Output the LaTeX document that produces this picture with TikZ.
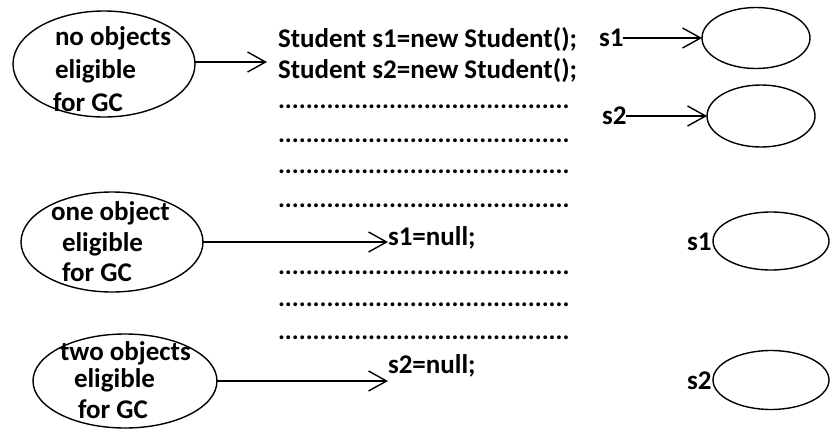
\documentclass[tikz,border=0pt]{standalone}
\usepackage{fontspec}
\setmainfont{Carlito}
\usetikzlibrary{arrows.meta,shapes.geometric}
\begin{document}
\begin{tikzpicture}[x=1pt,y=-1pt,
  every node/.style={inner sep=0pt,outer sep=0pt,font=\fontsize{27}{32}\selectfont\bfseries},
  txt/.style={anchor=base west},
  oval/.style={draw,ellipse,line width=1.4pt,minimum width=#1},
  conn/.style={line width=1.6pt,-{Straight Barb[length=18pt,width=20pt,line width=1.4pt]}},
  dots/.style={anchor=base west,font=\fontsize{26}{31}\selectfont\bfseries}]
\useasboundingbox (0,0) rectangle (839,434);
% left ellipses
\node[oval=182pt,minimum height=106pt] (e1) at (104,64) {};
\node[txt] (t1a) at (55,45) {no objects};
\node[txt] (t1b) at (55,78) {eligible};
\node[txt] (t1c) at (53,111) {for GC};
\node[oval=182pt,minimum height=100pt] (e2) at (112,242) {};
\node[txt] (t2a) at (51,220) {one object};
\node[txt] (t2b) at (62,251) {eligible};
\node[txt] (t2c) at (62,281) {for GC};
\node[oval=184pt,minimum height=94pt] (e3) at (125,381) {};
\node[txt] (t3a) at (60,360) {two objects};
\node[txt] (t3b) at (74,387) {eligible};
\node[txt] (t3c) at (78,418) {for GC};
% code
\node[txt] (c1) at (278,47) {Student s1=new Student();};
\node[txt] (c2) at (278,78) {Student s2=new Student();};
\node[dots] (d1) at (278,108) {..........................................};
\node[dots] (d2) at (278,142) {..........................................};
\node[dots] (d3) at (278,173) {..........................................};
\node[dots] (d4) at (278,207) {..........................................};
\node[txt] (n1) at (388,245) {s1=null;};
\node[dots] (d5) at (278,274) {..........................................};
\node[dots] (d6) at (278,306) {..........................................};
\node[dots] (d7) at (278,339) {..........................................};
\node[txt] (n2) at (388,373) {s2=null;};
\coordinate (a1) at (267,62);
\draw[conn] (e1.east |- a1) -- (a1);
\draw[conn] (e2.east) -- (n1.west |- e2.east);
\draw[conn] (e3.east) -- (n2.west |- e3.east);
% right side
\node[oval=108pt,minimum height=61pt] (r1) at (756,38) {};
\node[oval=108pt,minimum height=62pt] (r2) at (761,116) {};
\node[oval=116pt,minimum height=58pt] (r3) at (771,241) {};
\node[oval=116pt,minimum height=59pt] (r4) at (771,380) {};
\node[txt] (s1a) at (599,46) {s1};
\node[txt] (s2a) at (602,124) {s2};
\node[txt] (s1b) at (687,250) {s1};
\node[txt] (s2b) at (687,389) {s2};
\draw[conn] (s1a.east |- r1.west) -- (r1.west);
\draw[conn] (s2a.east |- r2.west) -- (r2.west);
\end{tikzpicture}
\end{document}
